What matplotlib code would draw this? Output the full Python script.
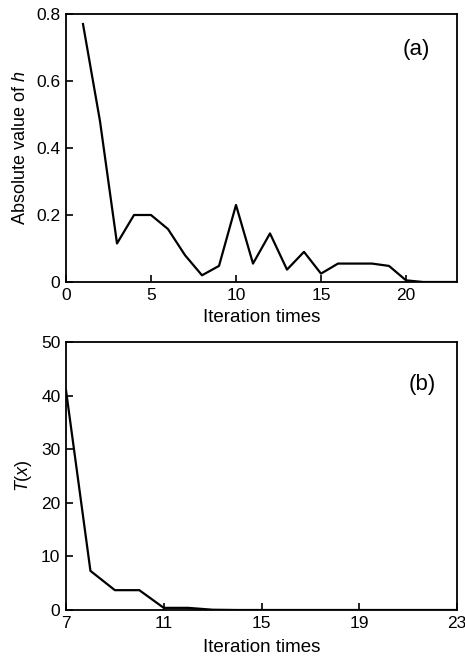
import matplotlib
matplotlib.use("Agg")
import matplotlib.pyplot as plt

plt.rcParams['font.family'] = ['Liberation Sans', 'DejaVu Sans']
plt.rcParams['mathtext.fontset'] = 'custom'
plt.rcParams['mathtext.it'] = 'Liberation Sans:italic'
plt.rcParams['mathtext.rm'] = 'Liberation Sans'

# panel (a): absolute value of h per iteration
iter_a = list(range(1, 24))
h_abs = [0.77, 0.48, 0.115, 0.20, 0.20, 0.158, 0.08, 0.02, 0.048, 0.23,
         0.055, 0.145, 0.037, 0.09, 0.025, 0.055, 0.055, 0.055, 0.048, 0.005,
         0.0, 0.0, 0.0]

# panel (b): T(x) per iteration
iter_b = list(range(7, 24))
t_x = [41.0, 7.3, 3.7, 3.7, 0.4, 0.4, 0.05, 0.0, 0.0, 0.0, 0.0, 0.0,
       0.0, 0.0, 0.0, 0.0, 0.0]

fig = plt.figure(figsize=(4.65, 6.6), dpi=100)
W, H = 465, 660
ax1 = fig.add_axes([66 / W, 1 - 282 / H, 391 / W, 268 / H])
ax2 = fig.add_axes([66 / W, 1 - 610 / H, 391 / W, 268 / H])


def style(ax):
    for s in ax.spines.values():
        s.set_linewidth(1.3)
    ax.tick_params(direction='in', length=5, width=1.2, labelsize=12.5,
                   top=False, right=False, pad=4)


ax1.plot(iter_a, h_abs, color='black', linewidth=1.6)
ax1.set_xlim(0, 23)
ax1.set_ylim(0, 0.8)
ax1.set_xticks([0, 5, 10, 15, 20])
ax1.set_yticks([0, 0.2, 0.4, 0.6, 0.8])
ax1.set_yticklabels(['0', '0.2', '0.4', '0.6', '0.8'])
ax1.set_xlabel('Iteration times', fontsize=13.5, labelpad=5)
ax1.set_ylabel('Absolute value of $h$', fontsize=13, labelpad=5)
ax1.text(0.895, 0.866, '(a)', transform=ax1.transAxes, fontsize=16,
         ha='center', va='center')
style(ax1)

ax2.plot(iter_b, t_x, color='black', linewidth=1.6)
ax2.set_xlim(7, 23)
ax2.set_ylim(0, 50)
ax2.set_xticks([7, 11, 15, 19, 23])
ax2.set_yticks([0, 10, 20, 30, 40, 50])
ax2.set_xlabel('Iteration times', fontsize=13.5, labelpad=6)
ax2.set_ylabel('$T$($x$)', fontsize=13, labelpad=5)
ax2.text(0.91, 0.84, '(b)', transform=ax2.transAxes, fontsize=16,
         ha='center', va='center')
style(ax2)

fig.savefig('out.png', dpi=100)
